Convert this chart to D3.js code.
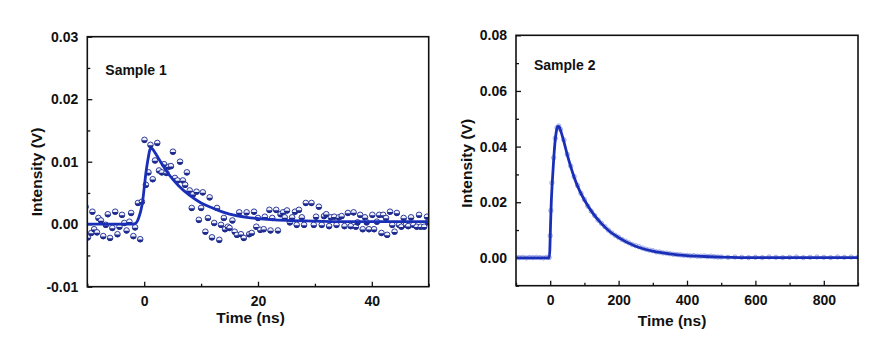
<!DOCTYPE html>
<html><head><meta charset="utf-8">
<script src="https://cdn.jsdelivr.net/npm/d3@7"></script>
<style>
html,body{margin:0;padding:0;background:#fff;}
svg text{font-family:"Liberation Sans",Arial,sans-serif;font-weight:bold;fill:#111;}
</style></head>
<body>
<svg id="c" width="885" height="357"></svg>
<script>
// ---- Sample 1 data (time ns, intensity V)
const time1 = [-10.3,-9.9,-9.3,-9.1,-8.8,-8.3,-8.05,-7.6,-7.2,-6.75,-6.4,-6.0,-5.6,-5.1,-4.7,-4.35,-3.9,-3.5,-3.1,-2.6,-2.3,-1.9,-1.6,-1.1,-0.7,-0.4,0.05,0.3,0.75,1.1,1.5,1.9,2.3,2.6,3.1,3.5,3.9,4.3,4.7,5.05,5.4,5.85,6.3,6.8,7.2,7.5,8.0,8.35,8.6,9.2,9.6,10.0,10.3,10.75,11.2,11.5,11.9,12.3,12.8,13.2,13.5,14.0,14.2,14.7,15.0,15.5,15.9,16.3,16.7,17.0,17.5,18.0,18.45,18.9,19.3,19.7,20.0,20.4,21.0,21.2,22.0,22.2,22.5,23.2,23.5,23.95,24.4,24.7,25.1,25.6,26.0,26.5,26.8,27.2,27.7,28.1,28.4,29.4,29.8,30.2,30.7,31.2,31.6,32.0,32.5,32.8,33.4,33.8,34.2,34.7,35.2,35.8,36.3,36.8,37.2,37.5,37.95,38.4,38.8,39.1,39.5,40.1,40.4,40.9,41.3,41.7,42.0,42.5,42.7,43.2,43.6,44.0,44.4,44.8,45.2,45.6,46.0,46.4,46.9,47.3,47.9,48.3,48.6,49.2,49.7,49.9];
const value1 = [0.0028,-0.0021,-0.0014,0.0020,-0.0008,-0.0013,0.0010,0.0006,-0.0019,-0.0001,0.0016,-0.0022,-0.0006,0.0020,-0.0016,-0.0004,0.0015,0.0002,-0.0010,0.0004,0.0018,-0.0019,-0.0005,0.0034,-0.0024,0.0036,0.0135,0.0063,0.0083,0.0127,0.0072,0.0102,0.0130,0.0086,0.0083,0.0096,0.0082,0.0092,0.0093,0.0116,0.0074,0.0070,0.0100,0.0070,0.0063,0.0083,0.0054,0.0026,0.0048,0.0052,0.0007,0.0026,0.0051,-0.0012,0.0010,0.0043,-0.0021,0.0002,0.0026,-0.0025,-0.0001,0.0010,-0.0008,-0.0004,-0.0006,0.0006,-0.0012,-0.0017,0.0019,-0.0016,-0.0022,0.0019,-0.0016,-0.0014,0.0020,-0.0004,0.0010,-0.0009,-0.0008,0.0012,0.0023,-0.0010,0.0010,0.0023,-0.0010,0.0016,0.0019,0.0011,0.0022,0.0003,0.0011,0.0020,-0.0001,0.0023,0.0011,-0.0001,0.0034,0.0034,-0.0001,0.0012,0.0028,-0.0001,0.0013,0.0016,-0.0003,0.0011,0.0012,-0.0001,0.0011,0.0013,-0.0003,0.0018,-0.0003,0.0019,-0.0004,0.0003,0.0015,-0.0008,0.0011,0.0003,-0.0008,0.0015,-0.0008,0.0004,0.0015,-0.0014,0.0015,0.0010,-0.0017,0.0020,-0.0001,-0.0012,0.0018,-0.0001,-0.0004,0.0010,-0.0001,-0.0003,0.0011,-0.0001,-0.0004,0.0015,-0.0004,-0.0004,0.0012,0.0003];
const fitTime1 = [-10,-2.5,-1.6,-1.2,-0.7,-0.3,0,0.3,0.65,1.0,1.2,1.5,2,3,4,5,6,8,10,12,14,16,18,20,25,30,35,40,45,50];
const fitValue1 = [0,0,0.0001,0.0005,0.0018,0.0035,0.0058,0.0082,0.0103,0.0119,0.0122,0.0120,0.0113,0.0098,0.0084,0.0072,0.0062,0.0046,0.0034,0.0026,0.0019,0.0014,0.0011,0.0009,0.0006,0.0005,0.0004,0.0004,0.0004,0.0004];

// ---- Sample 2 data
const time2 = [-100,-90,-80,-70,-60,-50,-40,-30,-20,-10,-3,0,2,5,10,15,20,25,30,40,50,60,70,80,90,100,110,120,130,140,150,160,170,180,190,200,210,220,230,240,250,260,270,280,290,300,310,320,330,340,350,360,370,380,390,400,410,420,430,440,450,460,470,480,490,500,520,540,560,580,600,620,640,660,680,700,720,740,760,780,800,820,840,860,880,900];
const value2 = [0.0002,0.0001,0.0002,0.0000,0.0002,0.0001,0.0002,0.0001,0.0000,0.0002,0.0001,0.0080,0.0170,0.0270,0.0360,0.0430,0.0468,0.0474,0.0462,0.0424,0.0372,0.0330,0.0292,0.0260,0.0232,0.0210,0.0186,0.0168,0.0152,0.0136,0.0124,0.0112,0.0100,0.0090,0.0081,0.0074,0.0066,0.0060,0.0054,0.0048,0.0044,0.0040,0.0035,0.0031,0.0028,0.0026,0.0022,0.0021,0.0018,0.0017,0.0015,0.0013,0.0012,0.0011,0.0009,0.0009,0.0007,0.0008,0.0006,0.0006,0.0007,0.0005,0.0006,0.0004,0.0003,0.0003,0.0002,0.0003,0.0002,0.0001,0.0002,0.0001,0.0003,0.0002,0.0001,0.0002,0.0003,0.0001,0.0002,0.0003,0.0002,0.0001,0.0003,0.0002,0.0003,0.0002];
const fitTime2 = [-100,-3,-1,1,3,6,10,14,18,22,25,28,32,40,50,60,70,80,100,125,150,175,200,250,300,350,400,450,500,600,700,800,900];
const fitValue2 = [0,0,0.0030,0.0120,0.0195,0.0270,0.0350,0.0415,0.0455,0.0472,0.0473,0.0466,0.0452,0.0418,0.0370,0.0328,0.0290,0.0258,0.0208,0.0160,0.0123,0.0094,0.0073,0.0042,0.0024,0.0014,0.0008,0.0005,0.0003,0.0001,0.0001,0.0001,0.0001];

// tick specs
const xTicks1 = [0,20,40], xMinor1 = [-10,10,30,50];
const yTicks1 = [-0.01,0,0.01,0.02,0.03], yMinor1 = [-0.005,0.005,0.015,0.025];
const xTicks2 = [0,200,400,600,800], xMinor2 = [-100,100,300,500,700,900];
const yTicks2 = [0,0.02,0.04,0.06,0.08], yMinor2 = [-0.01,0.01,0.03,0.05,0.07];

const svg = d3.select("#c");
const lineColor = "#1a2fb8";
const navy = "#1d2a8e";
const fmtY = d => d3.format(".2f")(d).replace("\u2212","-");

function panel(o){
  const g = svg.append("g");
  const x = d3.scaleLinear().domain(o.xd).range([o.l,o.r]);
  const y = d3.scaleLinear().domain(o.yd).range([o.b,o.t]);
  const clipId = "clip"+o.id;
  svg.append("clipPath").attr("id",clipId).append("rect")
    .attr("x",o.l).attr("y",o.t).attr("width",o.r-o.l).attr("height",o.b-o.t);

  // axes with inward ticks
  const xa = d3.axisBottom(x).tickValues(o.xt).tickSize(-5).tickPadding(9).tickFormat(d3.format("d"));
  const xm = d3.axisBottom(x).tickValues(o.xm).tickSize(-3).tickFormat("");
  const ya = d3.axisLeft(y).tickValues(o.yt).tickSize(-5).tickPadding(9).tickFormat(fmtY);
  const ym = d3.axisLeft(y).tickValues(o.ym).tickSize(-3).tickFormat("");
  [ [xa,"bottom"],[xm,"bottom"],[ya,"left"],[ym,"left"] ].forEach(([ax,side])=>{
    const a = g.append("g").attr("transform", side==="bottom" ? `translate(0,${o.b})` : `translate(${o.l},0)`).call(ax);
    a.select(".domain").remove();
    a.selectAll("line").attr("stroke","#111").attr("stroke-width",1.3);
    a.selectAll("text").style("font-size","14px").attr("fill","#111");
  });

  const plot = g.append("g").attr("clip-path",`url(#${clipId})`);
  o.draw(plot,x,y);

  g.append("rect").attr("x",o.l).attr("y",o.t).attr("width",o.r-o.l).attr("height",o.b-o.t)
    .attr("fill","none").attr("stroke","#111").attr("stroke-width",1.6);

  g.append("text").attr("x",o.xtx).attr("y",o.xty).attr("text-anchor","middle").style("font-size","15.5px").text("Time (ns)");
  g.append("text").attr("transform",`translate(${o.ytx},${o.yty}) rotate(-90)`).attr("text-anchor","middle")
    .attr("dominant-baseline","central").style("font-size","15.5px").text("Intensity (V)");
  g.append("text").attr("x",o.lx).attr("y",o.ly).style("font-size","14px").text(o.label);
}

panel({id:1, xd:[-10,50], yd:[-0.01,0.03], l:87.3, r:428.7, t:36.7, b:286.7,
  xt:xTicks1, xm:xMinor1, yt:yTicks1, ym:yMinor1,
  xtx:250.5, xty:322.5, ytx:36.7, yty:172, lx:105.3, ly:75, label:"Sample 1",
  draw:(p,x,y)=>{
    const pts = time1.map((t,i)=>({t:t,v:value1[i]}));
    const r = 2.8;
    const m = p.selectAll("g.m").data(pts).join("g").attr("class","m")
      .attr("transform",d=>`translate(${x(d.t)},${y(d.v)})`);
    m.append("circle").attr("r",r).attr("fill","#eef0fb").attr("stroke",navy).attr("stroke-width",0.9);
    m.append("path").attr("d",`M${-r},0.3 A${r},${r} 0 0 0 ${r},0.3 Z`).attr("fill",navy);
    const line = d3.line().x(d=>x(d.t)).y(d=>y(d.v)).curve(d3.curveMonotoneX);
    p.append("path").datum(fitTime1.map((t,i)=>({t:t,v:fitValue1[i]})))
      .attr("d",line).attr("fill","none").attr("stroke",lineColor).attr("stroke-width",2.8);
  }});

panel({id:2, xd:[-100,900], yd:[-0.01,0.08], l:516, r:858, t:35.3, b:285.7,
  xt:xTicks2, xm:xMinor2, yt:yTicks2, ym:yMinor2,
  xtx:672, xty:326, ytx:466.7, yty:163.3, lx:534, ly:70, label:"Sample 2",
  draw:(p,x,y)=>{
    const pts = time2.map((t,i)=>({t:t,v:value2[i]}));
    p.selectAll("circle").data(pts).join("circle")
      .attr("cx",d=>x(d.t)).attr("cy",d=>y(d.v)).attr("r",2.2)
      .attr("fill","#dfe3f7").attr("stroke","#8f9be0").attr("stroke-width",0.8);
    const line = d3.line().x(d=>x(d.t)).y(d=>y(d.v)).curve(d3.curveMonotoneX);
    p.append("path").datum(fitTime2.map((t,i)=>({t:t,v:fitValue2[i]})))
      .attr("d",line).attr("fill","none").attr("stroke",lineColor).attr("stroke-width",2.8);
  }});
</script>
</body></html>
